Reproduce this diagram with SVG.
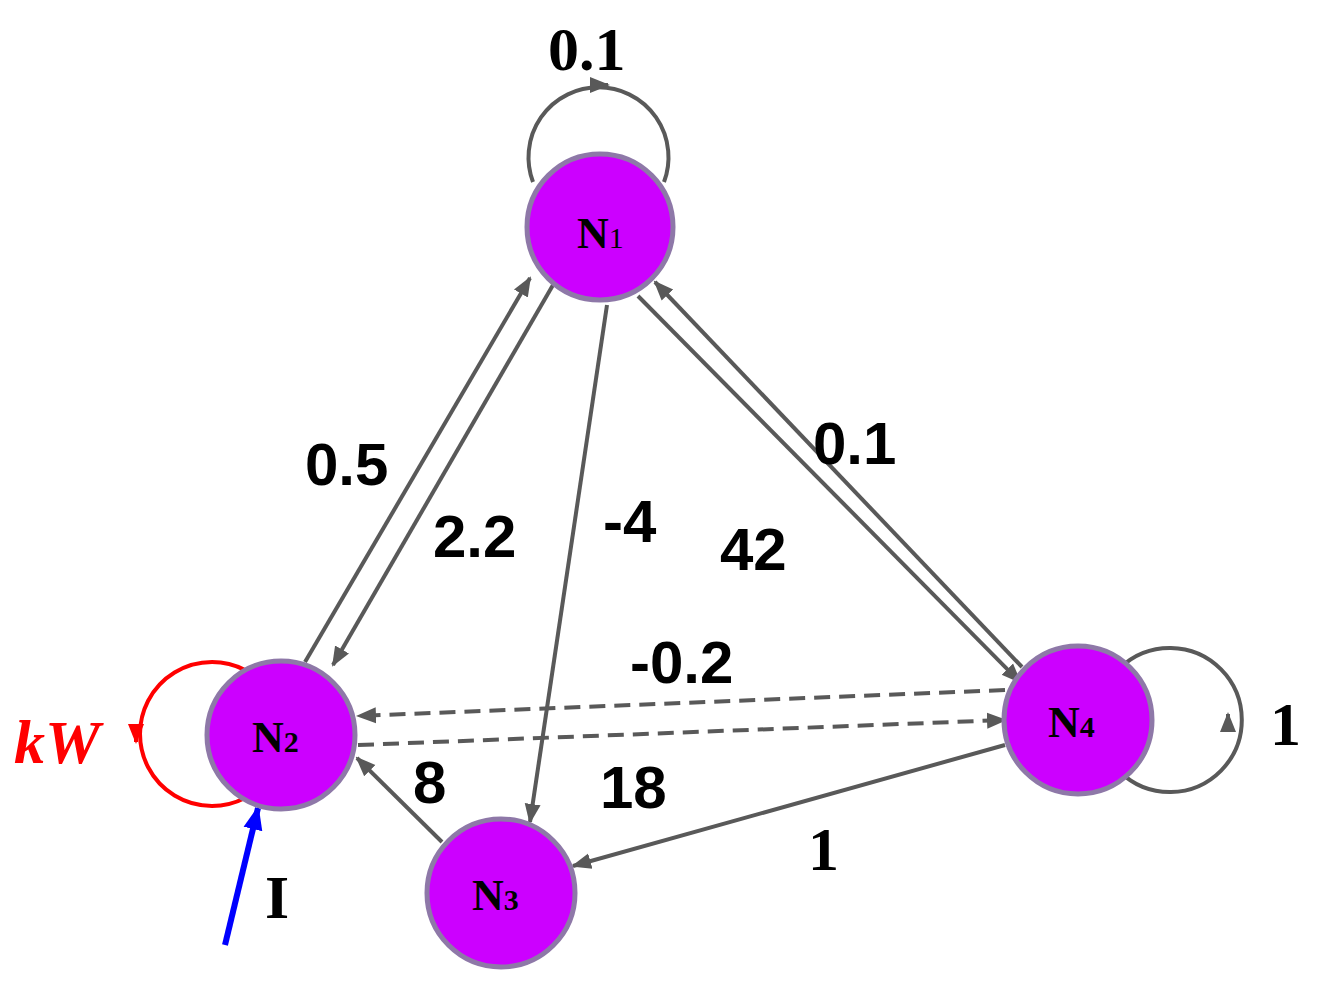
<svg xmlns="http://www.w3.org/2000/svg" width="1318" height="984" viewBox="0 0 1318 984">
<style>
.n{fill:#cc00ff;stroke:#8e78a8;stroke-width:5}
.e{stroke:#595959;stroke-width:4;fill:none}
.d{stroke-dasharray:16,9}
.t{font-family:"Liberation Serif",serif;font-weight:bold;fill:#000}
.s{font-family:"Liberation Sans",sans-serif;font-weight:bold;font-size:60px;fill:#000}
.r{font-family:"Liberation Serif",serif;font-weight:bold;font-size:62px;fill:#000}
</style>
<defs>
<marker id="a" viewBox="0 0 10 10" refX="9" refY="5" markerWidth="5" markerHeight="5" orient="auto" markerUnits="strokeWidth"><path d="M0,1 L10,5 L0,9 Z" fill="#595959"/></marker>
<marker id="ar" viewBox="0 0 10 10" refX="9" refY="5" markerWidth="5" markerHeight="5" orient="auto" markerUnits="strokeWidth"><path d="M0,1 L10,5 L0,9 Z" fill="#ff0000"/></marker>
<marker id="ab" viewBox="0 0 10 10" refX="9" refY="5" markerWidth="4" markerHeight="4" orient="auto" markerUnits="strokeWidth"><path d="M0,1 L10,5 L0,9 Z" fill="#0000ff"/></marker>
</defs>
<g id="connectors">
<path class="e" d="M533,182 A70,70 0 1 1 664,182" />
<path class="e" d="M596,85 L608,85" marker-end="url(#a)"/>
<line class="e" x1="305" y1="662" x2="530" y2="278" marker-end="url(#a)"/>
<line class="e" x1="553" y1="285" x2="333" y2="665" marker-end="url(#a)"/>
<line class="e" x1="607" y1="305" x2="530" y2="822" marker-end="url(#a)"/>
<line class="e" x1="638" y1="296" x2="1020" y2="682" marker-end="url(#a)"/>
<line class="e" x1="1022" y1="667" x2="655" y2="282" marker-end="url(#a)"/>
<line class="e d" x1="1005" y1="690" x2="358" y2="716" marker-end="url(#a)"/>
<line class="e d" x1="358" y1="745" x2="1005" y2="720" marker-end="url(#a)"/>
<line class="e" x1="442" y1="842" x2="357" y2="758" marker-end="url(#a)"/>
<line class="e" x1="1005" y1="745" x2="573" y2="866" marker-end="url(#a)"/>
<path class="e" d="M1120,668 A72,72 0 1 1 1120,772"/>
<path class="e" d="M1228,726 L1228,714" marker-end="url(#a)"/>
<path d="M245,670 A72,72 0 1 0 245,798" fill="none" stroke="#ff0000" stroke-width="4"/>
<path d="M136,726 L136,742" stroke="#ff0000" stroke-width="4" marker-end="url(#ar)"/>
<line x1="225" y1="945" x2="258" y2="808" stroke="#0000ff" stroke-width="6" marker-end="url(#ab)"/>
</g>
<g id="N1"><circle class="n" cx="600" cy="227" r="73"/><text class="t" x="577" y="248" font-size="44">N<tspan font-size="30" font-weight="normal">1</tspan></text></g>
<g id="N2"><circle class="n" cx="281" cy="735" r="74"/><text class="t" x="252" y="752" font-size="44">N<tspan font-size="30">2</tspan></text></g>
<g id="N3"><circle class="n" cx="501" cy="893" r="74"/><text class="t" x="472" y="910" font-size="44">N<tspan font-size="30">3</tspan></text></g>
<g id="N4"><circle class="n" cx="1078" cy="720" r="74"/><text class="t" x="1048" y="737" font-size="44">N<tspan font-size="30">4</tspan></text></g>
<g id="labels">
<text class="r" x="548" y="70">0.1</text>
<text class="s" x="305" y="485">0.5</text>
<text class="s" x="433" y="557">2.2</text>
<text class="s" x="603" y="542">-4</text>
<text class="s" x="720" y="570">42</text>
<text class="s" x="813" y="464">0.1</text>
<text class="s" x="630" y="683">-0.2</text>
<text class="s" x="413" y="803">8</text>
<text class="s" x="600" y="808">18</text>
<text class="r" x="808" y="870">1</text>
<text class="r" x="1270" y="745">1</text>
<text class="r" x="265" y="918">I</text>
<text x="14" y="763" font-family="Liberation Serif,serif" font-weight="bold" font-style="italic" font-size="62" fill="#ff0000">kW</text>
</g>
</svg>
